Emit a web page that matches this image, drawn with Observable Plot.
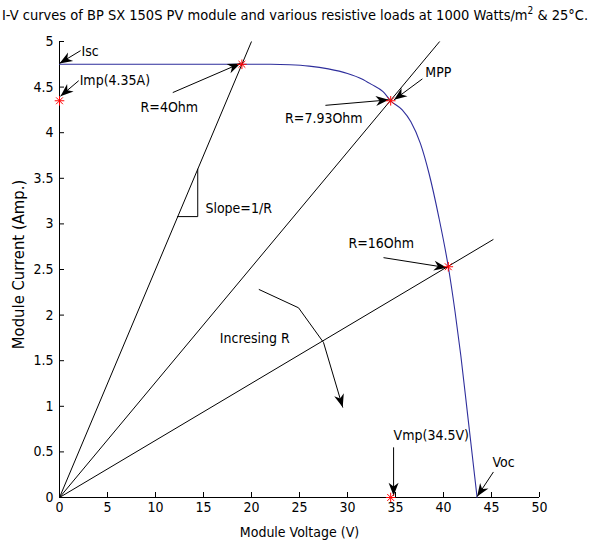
<!DOCTYPE html>
<html><head><meta charset="utf-8">
<script src="https://cdn.jsdelivr.net/npm/d3@7"></script>
<script src="https://cdn.jsdelivr.net/npm/@observablehq/plot@0.6"></script>
<style>
body{margin:0;background:#fff;width:590px;height:548px;overflow:hidden;}
#title{position:relative;height:26px;font-family:"Liberation Sans Narrow","Arial Narrow","DejaVu Sans Condensed",sans-serif;font-size:14.5px;white-space:nowrap;}
#title span{position:absolute;left:2px;top:6px;line-height:18px;}
#title sup{font-size:10px;line-height:0;}
</style></head><body>
<div id="title"><span>I-V curves of BP SX 150S PV module and various resistive loads at 1000 Watts/m<sup>2</sup> &amp; 25°C.</span></div>
<div id="chart"></div>
<script>
// I-V curve of the module
const voltage = [0, 5, 10, 15, 20, 22, 24, 26, 28, 30, 31.5, 32.5, 33.7, 34.5, 35.7, 36.6, 37.6, 38.5, 39.5, 40.5, 41.2, 41.8, 42.5, 43, 43.5];
const current = [4.75, 4.75, 4.75, 4.75, 4.75, 4.75, 4.745, 4.73, 4.70, 4.65, 4.59, 4.53, 4.45, 4.35, 4.25, 4.12, 3.88, 3.55, 3.08, 2.53, 2.04, 1.56, 0.92, 0.46, 0];

// resistive load lines (from origin to end point)
const loadNames = ["R=4Ohm", "R=7.93Ohm", "R=16Ohm"];
const loadEndV = [20, 39.6, 45.2];
const loadEndI = [5, 5, 2.83];

// red star points
const starV = [0, 19, 34.5, 40.5, 34.5];
const starI = [4.35, 4.75, 4.35, 2.53, 0];

// annotation texts
const noteText = ["Isc", "Imp(4.35A)", "R=4Ohm", "MPP", "R=7.93Ohm", "R=16Ohm", "Slope=1/R", "Incresing R", "Vmp(34.5V)", "Voc"];
const noteV = [2.3, 2.1, 8.45, 38.1, 23.5, 30.1, 15.2, 16.7, 34.8, 45.1];
const noteI = [4.89, 4.57, 4.28, 4.66, 4.16, 2.79, 3.17, 1.74, 0.68, 0.38];

// annotation arrows
const arrowFromV = [2.2, 2.0, 11.8, 37.8, 27.7, 33.75, 34.8, 45.2];
const arrowFromI = [4.90, 4.57, 4.44, 4.59, 4.30, 2.63, 0.55, 0.28];
const arrowToV = [0, 0.1, 18.85, 34.85, 34.3, 40.35, 34.8, 43.5];
const arrowToI = [4.76, 4.40, 4.76, 4.36, 4.36, 2.52, 0.02, 0.01];

// "Incresing R" bent arrow and slope triangle
const incV = [20.8, 24.9, 27.5, 29.5];
const incI = [2.28, 2.08, 1.70, 0.99];
const triV = [12.3, 14.4, 14.4];
const triI = [3.08, 3.08, 3.6];

const xTicks = [0, 5, 10, 15, 20, 25, 30, 35, 40, 45, 50];
const yTicks = [0, 0.5, 1, 1.5, 2, 2.5, 3, 3.5, 4, 4.5, 5];

const W = 590, H = 522, ML = 59, MR = 51, MT = 15, MB = 51;
const xDomain = [0, 50], yDomain = [0, 5];
const FONT = '"Liberation Sans Narrow","Arial Narrow","DejaVu Sans Condensed",sans-serif';

const curve = voltage.map((v, i) => ({v, i: current[i]}));
const loads = loadNames.map((n, k) => ({n, v: loadEndV[k], i: loadEndI[k]}));
const stars = starV.map((v, k) => ({v, i: starI[k]}));
const notes = noteText.map((t, k) => ({t, v: noteV[k], i: noteI[k]}));
const arrows = arrowFromV.map((v, k) => ({v1: v, i1: arrowFromI[k], v2: arrowToV[k], i2: arrowToI[k]}));
const inc = incV.map((v, k) => ({v, i: incI[k]}));
const tri = triV.map((v, k) => ({v, i: triI[k]}));

// pixel-space scales with the same configuration as the chart (for head angles)
const sx = d3.scaleLinear(xDomain, [ML, W - MR]);
const sy = d3.scaleLinear(yDomain, [H - MB, MT]);
const heads = arrows.map(a => ({v: a.v2, i: a.i2, a: Math.atan2(sy(a.i2) - sy(a.i1), sx(a.v2) - sx(a.v1)) * 180 / Math.PI}));
{
  const p = inc[inc.length - 2], q = inc[inc.length - 1];
  heads.push({v: q.v, i: q.i, a: Math.atan2(sy(q.i) - sy(p.i), sx(q.v) - sx(p.v)) * 180 / Math.PI});
}
const headSymbol = {
  draw(ctx) {
    const L = 13, Wd = 5;
    ctx.moveTo(0, 0);
    ctx.lineTo(-L, Wd);
    ctx.lineTo(-0.7 * L, 0);
    ctx.lineTo(-L, -Wd);
    ctx.closePath();
  }
};

const chart = Plot.plot({
  width: W, height: H,
  marginLeft: ML, marginRight: MR, marginTop: MT, marginBottom: MB,
  x: {domain: xDomain},
  y: {domain: yDomain},
  style: {fontFamily: FONT, fontSize: "14px", background: "white", color: "black"},
  marks: [
    Plot.ruleY([0], {stroke: "black"}),
    Plot.ruleX([0], {y1: 0, y2: 5, stroke: "black"}),
    Plot.axisX({ticks: xTicks, tickSize: -5, tickPadding: 10, label: null, fontSize: 14, tickFormat: d => String(d)}),
    Plot.axisY({ticks: yTicks, tickSize: -5, tickPadding: 11, label: null, fontSize: 14, tickFormat: d => String(d)}),
    Plot.text(["Module Voltage (V)"], {frameAnchor: "bottom", textAnchor: "middle", dy: 39, text: d => d, fontSize: 14}),
    Plot.text(["Module Current (Amp.)"], {frameAnchor: "left", textAnchor: "middle", dx: -41, dy: -5, rotate: -90, text: d => d, fontSize: 16.5}),
    Plot.link(loads, {x1: () => 0, y1: () => 0, x2: "v", y2: "i", stroke: "black", strokeWidth: 1}),
    Plot.line(curve, {x: "v", y: "i", stroke: "#2e2e9c", strokeWidth: 1.1, curve: "monotone-x"}),
    Plot.line(tri, {x: "v", y: "i", stroke: "black", strokeWidth: 1}),
    Plot.line(inc, {x: "v", y: "i", stroke: "black", strokeWidth: 1}),
    Plot.link(arrows, {x1: "v1", y1: "i1", x2: "v2", y2: "i2", stroke: "black", strokeWidth: 1}),
    Plot.dot(heads, {x: "v", y: "i", rotate: "a", symbol: headSymbol, r: 6, fill: "black", stroke: "none"}),
    Plot.dot(stars, {x: "v", y: "i", symbol: "plus", r: 3.2, stroke: "red", strokeWidth: 1}),
    Plot.dot(stars, {x: "v", y: "i", symbol: "times", r: 3.2, stroke: "red", strokeWidth: 1}),
    Plot.text(notes, {x: "v", y: "i", text: "t", textAnchor: "start", fontSize: 14})
  ]
});
document.getElementById("chart").appendChild(chart);
</script>
</body></html>
